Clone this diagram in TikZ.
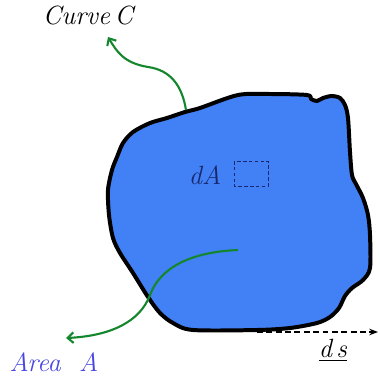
\documentclass[tikz,border=0pt]{standalone}
\usepackage{xcolor}
\usetikzlibrary{arrows.meta}
\definecolor{areablue}{RGB}{66,128,245}
\definecolor{curvegreen}{RGB}{20,135,45}
\definecolor{labelblue}{RGB}{70,70,225}
\definecolor{navy}{RGB}{25,40,110}
\begin{document}
\begin{tikzpicture}[x=0.03cm,y=-0.03cm,>=Stealth,
 lbl/.style={inner sep=0pt,font=\fontsize{22.5}{25}\selectfont\itshape},
 greenarrow/.style={curvegreen,line width=1.8pt,-{Straight Barb[length=5pt,width=9pt]}}]
\useasboundingbox (0,0) rectangle (379,383);
% the area
\draw[line width=3.4pt,fill=areablue,line join=round]
 plot[smooth cycle,tension=0.5] coordinates{
 (133,132)(150,123)(167,118)(185,112)(200,108)(238,95)(270,94)(307,95)
 (311,99)(317,101)(323,98)(332,96)(340,98)(345,105)(348,118)(350,152)
 (352,175)(356,184)(363,198)(368,215)(370,235)(370,268)(363,280)(352,288)
 (345,296)(339,308)(330,317)(317,323)(290,328)(257,330)(193,330)(173,323)
 (160,313)(148,297)(133,273)(120,253)(113,238)(109,215)(108,190)(112,170)
 (117,157)(123,143)};
% labels
\node[lbl] (curve) at (88,15) {Curve\kern4pt C};
\node[lbl,text=labelblue] (area) at (54,362) {Area\ \ A};
\node[lbl,text=navy] (dA) at (205,175) {dA};
\node[lbl] (ds) at (333,350) {\underline{d\,s}};
\draw[densely dashed,navy,line width=0.6pt] (234,161) rectangle (268,186);
% boundary element
\coordinate (s0) at (257,332);
\coordinate (s1) at (378,332);
\draw[dash pattern=on 5pt off 3pt,line width=1pt,->] (s0)--(s1);
% arrows
\coordinate (c0) at (186,110);
\coordinate (c1) at (108,37);
\draw[greenarrow] (c0) .. controls (182,85) and (170,70) .. (148,67)
 .. controls (124,63) and (117,52) .. (c1);
\coordinate (a0) at (238,250);
\coordinate (a1) at (66,338);
\draw[greenarrow] (a0) .. controls (190,252) and (160,268) .. (150,295)
 .. controls (140,322) and (110,336) .. (a1);
\end{tikzpicture}
\end{document}
